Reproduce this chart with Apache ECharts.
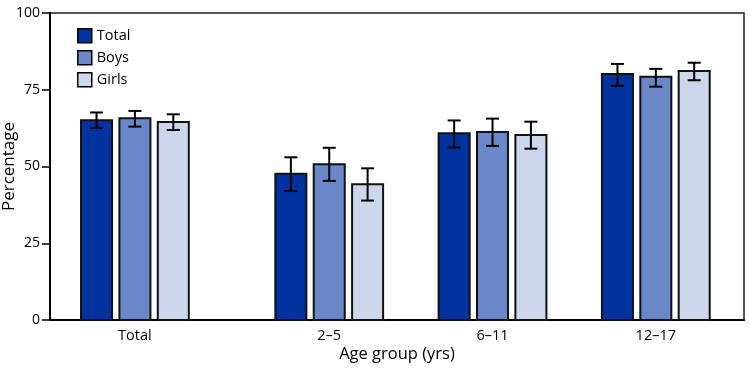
<!DOCTYPE html>
<html>
<head>
<meta charset="utf-8">
<script src="https://cdn.jsdelivr.net/npm/echarts@6/dist/echarts.min.js"></script>
<style>html,body{margin:0;padding:0;background:#fff}#c{width:750px;height:369px}</style>
</head>
<body>
<div id="c"></div>
<script>
var categories = ['Total', '2\u20135', '6\u201311', '12\u201317'];
var seriesNames = ['Total', 'Boys', 'Girls'];
var totalValues = [65.1, 47.6, 60.8, 80.1];
var totalLower  = [62.6, 42.0, 56.2, 76.3];
var totalUpper  = [67.6, 53.0, 65.0, 83.4];
var boysValues  = [65.7, 50.7, 61.2, 79.2];
var boysLower   = [63.0, 45.3, 56.7, 76.0];
var boysUpper   = [68.1, 56.1, 65.6, 81.8];
var girlsValues = [64.5, 44.2, 60.3, 81.1];
var girlsLower  = [61.9, 38.9, 55.8, 78.1];
var girlsUpper  = [67.0, 49.4, 64.6, 83.8];
var yTicks = [0, 25, 50, 75, 100];

var colors = ['#0033a0', '#6a87c8', '#cdd7ec'];
var values = [totalValues, boysValues, girlsValues];
var lowers = [totalLower, boysLower, girlsLower];
var uppers = [totalUpper, boysUpper, girlsUpper];

// group positions on the x value axis (first group set apart)
var positions = categories.map(function (c, i) { return i + (i > 0 ? 0.19 : 0); });

var BAR_W = 0.19;     // in axis units
var BAR_STEP = 0.235; // in axis units

function makeSeries(k) {
  var data = values[k].map(function (v, i) { return [positions[i], v, lowers[k][i], uppers[k][i]]; });
  return {
    name: seriesNames[k],
    type: 'custom',
    itemStyle: { color: colors[k], borderColor: '#000', borderWidth: 1.5 },
    data: data,
    z: 3,
    renderItem: function (params, api) {
      var x = api.value(0) + (k - 1) * BAR_STEP;
      var y = api.value(1);
      var p0 = api.coord([x - BAR_W / 2, 0]);
      var p1 = api.coord([x + BAR_W / 2, y]);
      var lo = api.coord([x, api.value(2)]);
      var hi = api.coord([x, api.value(3)]);
      var cap = 6.5;
      var es = { stroke: '#000', lineWidth: 2 };
      return {
        type: 'group',
        children: [
          { type: 'rect', shape: { x: p0[0], y: p1[1], width: p1[0] - p0[0], height: p0[1] - p1[1] },
            style: { fill: colors[k], stroke: '#111', lineWidth: 2 } },
          { type: 'line', shape: { x1: lo[0], y1: lo[1], x2: hi[0], y2: hi[1] }, style: es },
          { type: 'line', shape: { x1: hi[0] - cap, y1: hi[1], x2: hi[0] + cap, y2: hi[1] }, style: es },
          { type: 'line', shape: { x1: lo[0] - cap, y1: lo[1], x2: lo[0] + cap, y2: lo[1] }, style: es }
        ]
      };
    }
  };
}

var chart = echarts.init(document.getElementById('c'), null, { renderer: 'canvas' });
var font = 'Open Sans';
chart.setOption({
  animation: false,
  backgroundColor: '#fff',
  textStyle: { fontFamily: font },
  grid: { left: 50, right: 6, top: 13, bottom: 49, containLabel: false, outerBoundsMode: 'none',
    show: true, borderColor: '#222', borderWidth: 1.5, backgroundColor: 'transparent' },
  legend: {
    orient: 'vertical', left: 72, top: 23,
    itemWidth: 14, itemHeight: 14, itemGap: 6.5,
    icon: 'rect',
    itemStyle: { borderColor: '#000', borderWidth: 1.5 },
    textStyle: { fontFamily: font, fontSize: 14.5, color: '#000' },
    data: seriesNames
  },
  xAxis: {
    type: 'value', min: -0.52, max: 3.73,
    splitLine: { show: false },
    axisLine: { show: true, onZero: false, lineStyle: { color: '#000', width: 2 } },
    axisTick: { show: false },
    axisLabel: {
      customValues: positions,
      formatter: function (v) {
        for (var i = 0; i < positions.length; i++) if (Math.abs(positions[i] - v) < 1e-6) return categories[i];
        return '';
      },
      color: '#000', fontSize: 14.5, margin: 8, fontFamily: font
    },
    name: 'Age group (yrs)', nameLocation: 'middle', nameGap: 26, nameMoveOverlap: false,
    nameTextStyle: { fontSize: 16.5, color: '#000', fontFamily: font }
  },
  yAxis: {
    type: 'value', min: 0, max: 100, interval: 25,
    splitLine: { show: false },
    axisLine: { show: true, onZero: false, lineStyle: { color: '#000', width: 2 } },
    axisTick: { show: true, length: 8, lineStyle: { color: '#000', width: 1.5 } },
    axisLabel: { color: '#000', fontSize: 14, margin: 10, fontFamily: font,
      formatter: function (v) { return yTicks.indexOf(v) >= 0 ? String(v) : ''; } },
    name: 'Percentage', nameLocation: 'middle', nameGap: 32, nameRotate: 90, nameMoveOverlap: false,
    nameTextStyle: { fontSize: 17, color: '#000', fontFamily: font }
  },
  series: [makeSeries(0), makeSeries(1), makeSeries(2)]
});
</script>
</body>
</html>
